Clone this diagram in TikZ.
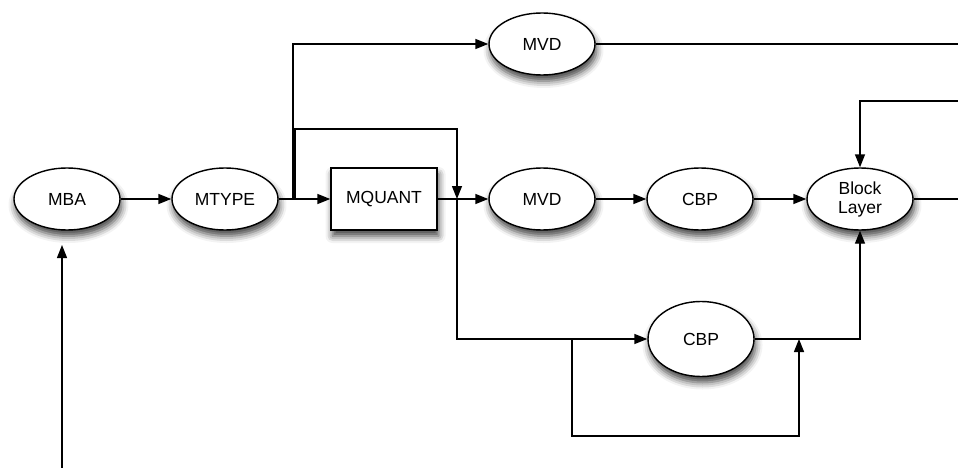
\documentclass[tikz,border=0pt]{standalone}
\usepackage{fontspec}
\setmainfont{Liberation Sans}
\usetikzlibrary{shapes.geometric,arrows.meta,shadows.blur}
\begin{document}
\begin{tikzpicture}[x=1pt,y=-1pt,
  line width=1.4pt,
  >={Triangle[length=13pt,width=10pt]},
  shad/.style={blur shadow={shadow xshift=1.5pt,shadow yshift=-6pt,shadow blur radius=7pt,shadow opacity=75}},
  oval/.style={ellipse,draw,fill=white,minimum width=106pt,minimum height=62pt,inner sep=0pt,shad,font=\fontsize{17.5}{19}\selectfont,align=center},
  boxnode/.style={rectangle,draw,fill=white,minimum width=106pt,minimum height=62pt,inner sep=0pt,shad,font=\fontsize{17.5}{19}\selectfont}]
\useasboundingbox (0,0) rectangle (958,468);
\node[oval] (mba) at (67,199) {MBA};
\node[oval] (mtype) at (225,199) {MTYPE};
\node[boxnode] (mquant) at (384,199) {MQUANT};
\node[oval] (mvd1) at (542,44) {MVD};
\node[oval] (mvd2) at (542,199) {MVD};
\node[oval] (cbp1) at (700,199) {CBP};
\node[oval] (bl) at (860,199) {Block\\Layer};
\node[oval,minimum height=75pt] (cbp2) at (701,339) {CBP};
\coordinate (j1) at (293,199);
\coordinate (j2) at (295,199);
\coordinate (j3) at (457,199);
\coordinate (j4) at (572,339);
\coordinate (j5) at (799,339);
\coordinate (r1) at (958,44);
\coordinate (r2) at (958,101);
\coordinate (r3) at (958,199);
\coordinate (b0) at (62,468);
\coordinate (b1) at (62,245);
\draw[->] (mba) -- (mtype);
\draw[->] (mtype) -- (mquant);
\draw[->] (j1) |- (mvd1.west);
\draw[->] (j2) -- (295,129) -| (j3);
\draw[->] (mquant) -- (mvd2);
\draw[->] (j3) |- (cbp2.west);
\draw[->] (mvd2) -- (cbp1);
\draw[->] (cbp1) -- (bl);
\draw (mvd1.east) -- (r1);
\draw (bl.east) -- (r3);
\draw[->] (r2) -| (bl.north);
\draw[->] (cbp2.east) -| (bl.south);
\draw[->] (j4) -- (572,436) -| (j5);
\draw[->] (b0) -- (b1);
\end{tikzpicture}
\end{document}
